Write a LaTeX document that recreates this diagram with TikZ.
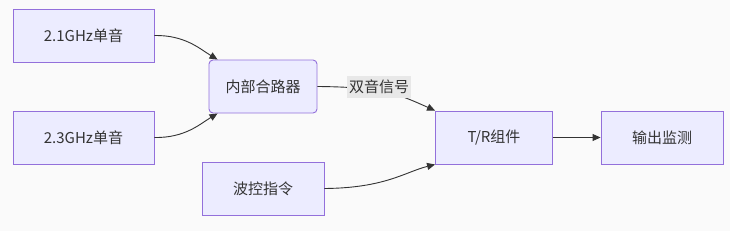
\documentclass[tikz,border=0pt]{standalone}
\usepackage{fontspec}
\setmainfont{Noto Sans CJK SC}
\usetikzlibrary{arrows.meta}
\definecolor{bg}{HTML}{FAFAFA}
\definecolor{boxfill}{HTML}{ECECFF}
\definecolor{boxline}{HTML}{9370DB}
\definecolor{txt}{HTML}{333333}
\definecolor{lblbg}{HTML}{E8E8E8}
\tikzset{
  box/.style={draw=boxline, fill=boxfill, line width=0.9pt, text=txt, font=\fontsize{15}{17}\selectfont, inner sep=0pt},
  conn/.style={draw=txt, line width=0.9pt, -{Triangle[length=8pt,width=7pt]}},
  lbl/.style={fill=lblbg, text=txt, font=\fontsize{15}{17}\selectfont, inner sep=2pt, minimum height=22pt}
}
\begin{document}
\begin{tikzpicture}[x=1pt,y=-1pt]
\fill[bg] (0,0) rectangle (730,231);
\useasboundingbox (0,0) rectangle (730,231);
\node[box, minimum width=141pt, minimum height=53pt] (a) at (83.5,35.5) {2.1GHz单音};
\node[box, minimum width=141pt, minimum height=53pt] (b) at (83.5,137.5) {2.3GHz单音};
\node[box, rounded corners=4pt, minimum width=108pt, minimum height=53pt] (c) at (263,86.5) {内部合路器};
\node[box, minimum width=122pt, minimum height=53pt] (d) at (263,188.5) {波控指令};
\node[box, minimum width=117pt, minimum height=53pt] (e) at (494,137.5) {T/R组件};
\node[box, minimum width=122pt, minimum height=53pt] (f) at (662,137.5) {输出监测};
\draw[conn] (a.east) .. controls (185,35) and (200,49) .. ([xshift=9pt]c.north west);
\draw[conn] (b.east) .. controls (185,138) and (200,124) .. ([xshift=9pt]c.south west);
\draw[conn] (c.east) .. controls (385,87) and (400,95) .. (e.north west);
\node[lbl] (l) at (379,87) {双音信号};
\draw[conn] (d.east) .. controls (385,188) and (405,172) .. (e.south west);
\draw[conn] (e.east) -- (f.west);
\end{tikzpicture}
\end{document}
